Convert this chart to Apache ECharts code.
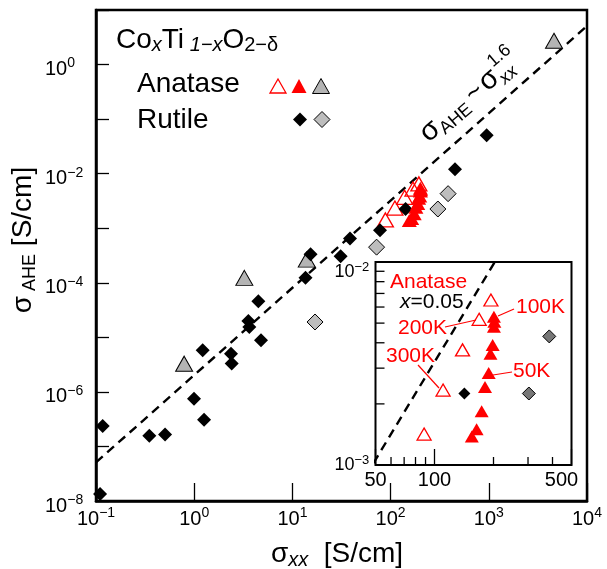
<!DOCTYPE html>
<html>
<head>
<meta charset="utf-8">
<title>σAHE vs σxx</title>
<script src="https://cdn.jsdelivr.net/npm/echarts@6/dist/echarts.min.js"></script>
<style>
    html, body { margin: 0; padding: 0; background: #fff; }
    #chart { width: 607px; height: 569px; }
</style>
</head>
<body>
<div id="chart"></div>
<script>
    // sigma_xx [S/cm] / sigma_AHE [S/cm]
    const rutileBlackX = [0.11, 0.117, 0.349, 0.505, 0.995, 1.26, 1.22, 2.37, 2.41, 3.56, 3.64, 4.79, 4.5, 13.6, 15.3, 31, 38.6, 78, 142, 453, 951];
    const rutileBlackY = [1.35e-8, 2.36e-7, 1.57e-7, 1.66e-7, 7.5e-7, 3.1e-7, 5.77e-6, 5.0e-6, 3.3e-6, 1.99e-5, 1.55e-5, 8.8e-6, 4.58e-5, 1.24e-4, 3.33e-4, 3.06e-4, 6.47e-4, 9.2e-4, 2.25e-3, 1.21e-2, 5.08e-2];
    const rutileGrayX = [17, 72, 303, 385];
    const rutileGrayY = [1.91e-5, 4.5e-4, 2.25e-3, 4.3e-3];
    const anataseGrayX = [0.79, 3.24, 14, 4613];
    const anataseGrayY = [3.29e-6, 1.23e-4, 2.66e-4, 2.73];
    // anatase x=0.05, open and filled triangles
    const anataseOpenX = [88.5, 110.6, 139, 169, 194];
    const anataseOpenY = [1.42e-3, 2.34e-3, 3.69e-3, 5.22e-3, 6.5e-3];
    const anataseFillX = [201, 202, 201, 198, 193, 189, 181, 174, 164, 155];
    const anataseFillY = [5.38e-3, 5.08e-3, 4.80e-3, 3.90e-3, 3.53e-3, 2.84e-3, 2.42e-3, 1.84e-3, 1.50e-3, 1.38e-3];
    // sigma_AHE ~ sigma_xx^1.6 guide (end points)
    const guideX = [0.1, 1e4];
    const guideY = [5.1e-8, 5.1];
    // inset minor ticks
    const insetXMinor = [60, 70, 80, 90, 200, 300, 400];
    const insetYMinor = [2e-3, 3e-3, 4e-3, 5e-3, 6e-3, 7e-3, 8e-3, 9e-3];

    const FONT = 'Liberation Sans';

    function pairs(xs, ys) {
        return xs.map((x, i) => [x, ys[i]]);
    }

    function expText(v) {
        return String(Math.round(Math.log10(v))).replace('-', '\u2212');
    }

    const mainRich = {
        b: { fontSize: 20, lineHeight: 26, fontFamily: FONT, color: '#000' },
        s: { fontSize: 14, lineHeight: 14, fontFamily: FONT, color: '#000', verticalAlign: 'top' }
    };
    const insetRich = {
        b: { fontSize: 18, lineHeight: 22, fontFamily: FONT, color: '#000' },
        s: { fontSize: 13, lineHeight: 13, fontFamily: FONT, color: '#000', verticalAlign: 'top' },
        e: { fontSize: 10, lineHeight: 20 },
        n: { fontSize: 20, lineHeight: 22, fontFamily: FONT, color: '#000' },
        r: { fontSize: 20, lineHeight: 22, fontFamily: FONT, color: '#000', padding: [0, 20, 0, 0] }
    };

    const chart = echarts.init(document.getElementById('chart'), null, { renderer: 'canvas' });

    const tri = (cx, cy, w, h) => [[cx, cy - h / 2], [cx + w / 2, cy + h / 2], [cx - w / 2, cy + h / 2]];
    const dia = (cx, cy, s) => [[cx, cy - s / 2], [cx + s / 2, cy], [cx, cy + s / 2], [cx - s / 2, cy]];
    const red = '#ff0000';

    function tickSeries(values, axis) {
        return {
            type: 'custom',
            xAxisIndex: 1, yAxisIndex: 1,
            z: 13,
            silent: true,
            data: values.map(v => axis === 'x' ? [v, 1e-3] : [50, v]),
            renderItem: function (params, api) {
                const p = api.coord([api.value(0), api.value(1)]);
                const s = axis === 'x'
                    ? { x1: p[0], y1: p[1], x2: p[0], y2: p[1] - 8 }
                    : { x1: p[0], y1: p[1], x2: p[0] + 9, y2: p[1] };
                return { type: 'line', shape: s, style: { stroke: '#000', lineWidth: 1.3 } };
            }
        };
    }

    chart.setOption({
        animation: false,
        grid: [
            { left: 96, top: 10, width: 491, height: 491, show: true, borderColor: '#000', borderWidth: 2.5, backgroundColor: '#fff' },
            { left: 375.5, top: 262, width: 196, height: 203, show: true, borderColor: '#000', borderWidth: 2, backgroundColor: '#fff', z: 10 }
        ],
        xAxis: [
            {
                type: 'log', gridIndex: 0, min: 0.1, max: 1e4, logBase: 10,
                axisLine: { show: true, lineStyle: { color: '#000', width: 2.5 } },
                axisTick: { inside: true, length: 18, lineStyle: { color: '#000', width: 1.3 } },
                splitLine: { show: false },
                axisLabel: { margin: 5, formatter: v => '{b|10}{s|' + expText(v) + '}', rich: mainRich }
            },
            {
                type: 'log', gridIndex: 1, min: 50, max: 500, logBase: 10, z: 11,
                axisLine: { show: false },
                axisTick: { inside: true, length: 16, lineStyle: { color: '#000', width: 1.3 } },
                splitLine: { show: false },
                axisLabel: {
                    margin: 4,
                    formatter: v => v >= 499 ? '{r|500}' : '{n|' + Math.round(v) + '}',
                    rich: insetRich
                }
            }
        ],
        yAxis: [
            {
                type: 'log', gridIndex: 0, min: 1e-8, max: 10, logBase: 10,
                axisLine: { show: true, lineStyle: { color: '#000', width: 2.5 } },
                axisTick: { inside: true, length: 13, lineStyle: { color: '#000', width: 1.3 } },
                splitLine: { show: false },
                axisLabel: {
                    margin: 51, align: 'left', padding: [10, 0, 0, 0],
                    formatter: function (v) {
                        const e = Math.round(Math.log10(v));
                        if (e % 2 !== 0) return '';
                        return '{b|10}{s|' + expText(v) + '}';
                    },
                    rich: mainRich
                }
            },
            {
                type: 'log', gridIndex: 1, min: 1e-3, max: 1e-2, logBase: 10, z: 11,
                axisLine: { show: false },
                axisTick: { show: false },
                splitLine: { show: false },
                axisLabel: {
                    margin: 41, align: 'left',
                    formatter: function (v) {
                        const e = Math.round(Math.log10(v));
                        if (e === -2) return '{e| }\n{b|10}{s|' + expText(v) + '}';
                        return '{b|10}{s|' + expText(v) + '}';
                    },
                    rich: insetRich
                }
            }
        ],
        series: [
            {
                type: 'line', data: pairs(guideX, guideY), symbol: 'none', z: 2,
                lineStyle: { color: '#000', width: 2.4, type: [9, 6] }
            },
            {
                type: 'scatter', data: pairs(anataseOpenX, anataseOpenY), symbol: 'triangle', symbolSize: [16, 14], z: 3,
                itemStyle: { color: 'rgba(255,255,255,0)', borderColor: red, borderWidth: 1.3, opacity: 1 }
            },
            {
                type: 'scatter', data: pairs(anataseGrayX, anataseGrayY), symbol: 'triangle', symbolSize: [17, 15], z: 3,
                itemStyle: { color: '#b4b4b4', borderColor: '#000', borderWidth: 1, opacity: 1 }
            },
            {
                type: 'scatter', data: pairs(rutileGrayX, rutileGrayY), symbol: 'diamond', symbolSize: 16, z: 3,
                itemStyle: { color: '#bdbdbd', borderColor: '#000', borderWidth: 1, opacity: 1 }
            },
            {
                type: 'scatter', data: pairs(rutileBlackX, rutileBlackY), symbol: 'diamond', symbolSize: 14, z: 4,
                itemStyle: { color: '#000', opacity: 1 }
            },
            {
                type: 'scatter', data: pairs(anataseFillX, anataseFillY), symbol: 'triangle', symbolSize: [15, 13], z: 5,
                itemStyle: { color: red, opacity: 1 }
            },
            // inset
            {
                type: 'line', xAxisIndex: 1, yAxisIndex: 1, data: pairs(guideX, guideY), symbol: 'none', z: 12,
                lineStyle: { color: '#000', width: 2.4, type: [9, 6] }
            },
            tickSeries(insetXMinor, 'x'),
            tickSeries(insetYMinor, 'y'),
            {
                type: 'scatter', xAxisIndex: 1, yAxisIndex: 1, data: pairs(anataseOpenX, anataseOpenY), symbol: 'triangle', symbolSize: [14, 12], z: 13,
                itemStyle: { color: 'rgba(255,255,255,0)', borderColor: red, borderWidth: 1.3, opacity: 1 }
            },
            {
                type: 'scatter', xAxisIndex: 1, yAxisIndex: 1, data: pairs(rutileGrayX, rutileGrayY), symbol: 'diamond', symbolSize: 13, z: 13,
                itemStyle: { color: '#777777', borderColor: '#000', borderWidth: 1, opacity: 1 }
            },
            {
                type: 'scatter', xAxisIndex: 1, yAxisIndex: 1, data: pairs(rutileBlackX, rutileBlackY), symbol: 'diamond', symbolSize: 12, z: 13,
                itemStyle: { color: '#000', opacity: 1 }
            },
            {
                type: 'scatter', xAxisIndex: 1, yAxisIndex: 1, data: pairs(anataseFillX, anataseFillY), symbol: 'triangle', symbolSize: [14, 12], z: 14,
                itemStyle: { color: red, opacity: 1 }
            }
        ],
        graphic: [
            // title + legend
            {
                type: 'text', left: 116, top: 26, z: 100,
                style: {
                    text: '{m|Co}{i|x}{m|Ti}{i| 1\u2212x}{m|O}{n|2\u2212\u03b4}',
                    rich: {
                        m: { fontSize: 28, lineHeight: 30, fontFamily: FONT, color: '#000' },
                        i: { fontSize: 20, lineHeight: 14, fontFamily: FONT, fontStyle: 'italic', color: '#000', verticalAlign: 'bottom' },
                        n: { fontSize: 20, lineHeight: 14, fontFamily: FONT, color: '#000', verticalAlign: 'bottom' }
                    }
                }
            },
            { type: 'text', z: 100, style: { x: 137, y: 84, text: 'Anatase', fontSize: 28, fontFamily: FONT, fill: '#000', verticalAlign: 'middle' } },
            { type: 'text', z: 100, style: { x: 137, y: 120, text: 'Rutile', fontSize: 28, fontFamily: FONT, fill: '#000', verticalAlign: 'middle' } },
            { type: 'polygon', z: 100, shape: { points: tri(278, 86, 16, 14) }, style: { fill: 'none', stroke: red, lineWidth: 1.3 } },
            { type: 'polygon', z: 100, shape: { points: tri(299, 86, 15, 14) }, style: { fill: red } },
            { type: 'polygon', z: 100, shape: { points: tri(321, 86, 17, 15) }, style: { fill: '#b4b4b4', stroke: '#000', lineWidth: 1 } },
            { type: 'polygon', z: 100, shape: { points: dia(300, 119.5, 14) }, style: { fill: '#000' } },
            { type: 'polygon', z: 100, shape: { points: dia(322, 119.5, 16) }, style: { fill: '#bdbdbd', stroke: '#000', lineWidth: 1 } },
            // axis titles
            {
                type: 'text', z: 100, x: 23, y: 240, rotation: Math.PI / 2,
                style: {
                    text: '{a|\u03c3}{b| AHE}{a| [S/cm]}', align: 'center', verticalAlign: 'middle',
                    rich: {
                        a: { fontSize: 28, lineHeight: 32, fontFamily: FONT, color: '#000' },
                        b: { fontSize: 18, lineHeight: 22, fontFamily: FONT, color: '#000', verticalAlign: 'bottom' }
                    }
                }
            },
            {
                type: 'text', z: 100, x: 337, y: 554,
                style: {
                    text: '{a|\u03c3}{c|xx}{a|  [S/cm]}', align: 'center', verticalAlign: 'middle',
                    rich: {
                        a: { fontSize: 28, lineHeight: 32, fontFamily: FONT, color: '#000' },
                        c: { fontSize: 20, lineHeight: 16, fontFamily: FONT, fontStyle: 'italic', color: '#000', verticalAlign: 'bottom' }
                    }
                }
            },
            // guide label
            {
                type: 'group', x: 431, y: 146, rotation: 0.71, z: 100,
                children: [
                    { type: 'text', z: 100, style: { x: 0, y: -12, text: '\u03c3', fontSize: 29, fontFamily: FONT, fill: '#000', verticalAlign: 'middle' } },
                    { type: 'text', z: 100, style: { x: 18, y: -4, text: 'AHE', fontSize: 18, fontFamily: FONT, fill: '#000', verticalAlign: 'middle' } },
                    { type: 'text', z: 100, style: { x: 60, y: -12, text: '~', fontSize: 27, fontFamily: FONT, fill: '#000', verticalAlign: 'middle' } },
                    { type: 'text', z: 100, style: { x: 78, y: -12, text: '\u03c3', fontSize: 29, fontFamily: FONT, fill: '#000', verticalAlign: 'middle' } },
                    { type: 'text', z: 100, style: { x: 96, y: -3, text: 'xx', fontSize: 18, fontStyle: 'italic', fontFamily: FONT, fill: '#000', verticalAlign: 'middle' } },
                    { type: 'text', z: 100, style: { x: 98, y: -24, text: '1.6', fontSize: 18, fontFamily: FONT, fill: '#000', verticalAlign: 'middle' } }
                ]
            },
            // inset annotations
            { type: 'text', z: 100, style: { x: 390, y: 282, text: 'Anatase', fontSize: 21, fontFamily: FONT, fill: red, verticalAlign: 'middle' } },
            {
                type: 'text', z: 100, style: {
                    x: 400, y: 302, verticalAlign: 'middle', text: '{i|x}{n|=0.05}',
                    rich: {
                        i: { fontSize: 21, fontFamily: FONT, fontStyle: 'italic', color: red },
                        n: { fontSize: 21, fontFamily: FONT, color: red }
                    }
                }
            },
            { type: 'text', z: 100, style: { x: 516, y: 307, text: '100K', fontSize: 21, fontFamily: FONT, fill: red, verticalAlign: 'middle' } },
            { type: 'text', z: 100, style: { x: 398, y: 328, text: '200K', fontSize: 21, fontFamily: FONT, fill: red, verticalAlign: 'middle' } },
            { type: 'text', z: 100, style: { x: 386, y: 356, text: '300K', fontSize: 21, fontFamily: FONT, fill: red, verticalAlign: 'middle' } },
            { type: 'text', z: 100, style: { x: 513, y: 371, text: '50K', fontSize: 21, fontFamily: FONT, fill: red, verticalAlign: 'middle' } },
            { type: 'line', z: 100, shape: { x1: 514, y1: 309, x2: 498, y2: 316 }, style: { stroke: red, lineWidth: 1.2 } },
            { type: 'line', z: 100, shape: { x1: 445, y1: 327, x2: 476, y2: 320 }, style: { stroke: red, lineWidth: 1.2 } },
            { type: 'line', z: 100, shape: { x1: 418, y1: 365, x2: 439, y2: 388 }, style: { stroke: red, lineWidth: 1.2 } },
            { type: 'line', z: 100, shape: { x1: 512, y1: 372, x2: 493, y2: 375 }, style: { stroke: red, lineWidth: 1.2 } }
        ]
    });
</script>
</body>
</html>
